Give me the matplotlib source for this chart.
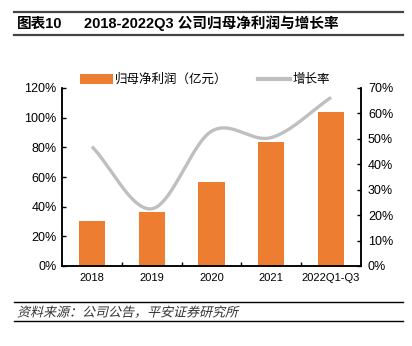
import matplotlib
matplotlib.use("Agg")
import matplotlib.pyplot as plt
import numpy as np
from matplotlib.lines import Line2D
from matplotlib.patches import Patch, PathPatch
from matplotlib.textpath import TextPath
from matplotlib.font_manager import FontProperties
from matplotlib.transforms import Affine2D

plt.rcParams['font.family'] = ['Liberation Sans', 'Noto Sans CJK SC']

# data
categories = ['2018', '2019', '2020', '2021', '2022Q1-Q3']
profit = [30.4, 36.5, 56.4, 83.9, 103.8]      # 归母净利润 (left axis, shown in %)
growth = [47.0, 22.5, 53.0, 50.5, 66.3]       # 增长率 (right axis, %)

ORANGE = '#ED7D31'
GREY = '#BFBFBF'


def smooth(xs, ys, n=40):
    """Catmull-Rom style smoothing, like the spreadsheet 'smoothed line'."""
    p = np.column_stack([xs, ys]).astype(float)
    p = np.vstack([2 * p[0] - p[1], p, 2 * p[-1] - p[-2]])
    out = []
    for i in range(1, len(p) - 2):
        p0, p1, p2, p3 = p[i - 1], p[i], p[i + 1], p[i + 2]
        t = np.linspace(0, 1, n)[:, None]
        seg = 0.5 * ((2 * p1) + (-p0 + p2) * t + (2 * p0 - 5 * p1 + 4 * p2 - p3) * t ** 2
                     + (-p0 + 3 * p1 - 3 * p2 + p3) * t ** 3)
        out.append(seg)
    out = np.vstack(out)
    return out[:, 0], out[:, 1]


fig = plt.figure(figsize=(4.12, 3.46), dpi=100)
W, H = 412, 346

ax = fig.add_axes([62 / W, 1 - 266 / H, (361 - 62) / W, (266 - 88) / H])
x = np.arange(len(categories))
ax.bar(x, profit, width=0.44, color=ORANGE, zorder=2)
ax.set_xlim(-0.5, len(categories) - 0.5)
ax.set_ylim(0, 120)
ax.set_yticks(np.arange(0, 121, 20))
ax.set_yticklabels(['%d%%' % v for v in range(0, 121, 20)], fontsize=9)
ax.set_xticks(x)
ax.set_xticklabels(categories, fontsize=8)
ax.set_xticks(np.arange(0.5, len(categories) - 0.5, 1), minor=True)
ax.tick_params(axis='x', which='major', length=0, pad=5)
ax.tick_params(axis='x', which='minor', direction='in', length=3, width=1)
ax.tick_params(axis='y', direction='in', length=3, width=1, pad=4)
ax.spines['top'].set_visible(False)
for s in ['left', 'bottom', 'right']:
    ax.spines[s].set_linewidth(1.1)

ax2 = ax.twinx()
sx, sy = smooth(x, growth)
ax2.plot(sx, sy, color=GREY, lw=2.4, solid_capstyle='butt', zorder=3)
ax2.set_ylim(0, 70)
ax2.set_yticks(np.arange(0, 71, 10))
ax2.set_yticklabels(['%d%%' % v for v in range(0, 71, 10)], fontsize=9)
ax2.tick_params(axis='y', direction='in', length=3, width=1, pad=5)
ax2.spines['top'].set_visible(False)
for s in ['left', 'bottom', 'right']:
    ax2.spines[s].set_linewidth(1.1)

handles = [Patch(facecolor=ORANGE, edgecolor='none'),
           Line2D([0], [0], color=GREY, lw=3)]
fig.legend(handles, ['归母净利润（亿元）', '增长率'], loc='center',
           bbox_to_anchor=(205 / W, 1 - 80 / H), ncol=2, frameon=False,
           fontsize=9, handlelength=2.6, handleheight=0.9, columnspacing=2.4,
           handletextpad=0.2)

# title block
fig.add_artist(Line2D([14 / W, 403 / W], [1 - 12 / H] * 2, color='#444444', lw=1.6))
fig.add_artist(Line2D([14 / W, 403 / W], [1 - 34.5 / H] * 2, color='#444444', lw=1.6))
fig.text(17 / W, 1 - 23.5 / H, '图表10', fontsize=10.5, fontweight='bold', va='center')
fig.text(84 / W, 1 - 23.5 / H, '2018-2022Q3 公司归母净利润与增长率', fontsize=10.5,
         fontweight='bold', va='center')

# source block, italic by shearing the glyph outlines
fig.add_artist(Line2D([14 / W, 403 / W], [1 - 302 / H] * 2, color='black', lw=1.0))
fig.add_artist(Line2D([14 / W, 403 / W], [1 - 321 / H] * 2, color='black', lw=1.0))
tp = TextPath((0, 0), '资料来源：公司公告，平安证券研究所', size=13,
              prop=FontProperties(family='Noto Sans CJK SC'))
fig.add_artist(PathPatch(tp, transform=Affine2D().skew_deg(14, 0).translate(17, H - 316.5),
                         facecolor='#333333', edgecolor='none'))

fig.savefig('out.png', dpi=100)
